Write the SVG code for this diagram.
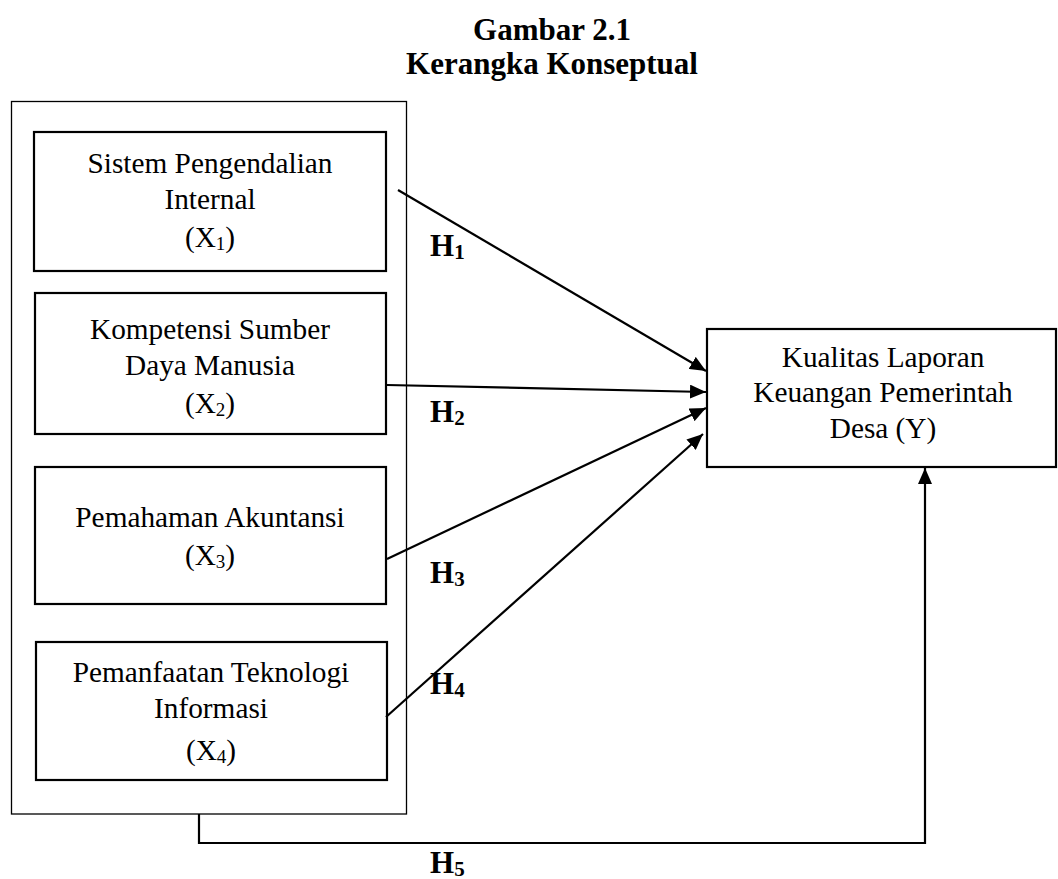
<svg xmlns="http://www.w3.org/2000/svg" width="1058" height="879" viewBox="0 0 1058 879">
<style>
  text { font-family: "Liberation Serif", "Times New Roman", serif; fill: #000; }
  .t { font-size: 29.3px; text-anchor: middle; }
  .b { font-size: 31px; font-weight: bold; }
  .title { font-size: 31px; font-weight: bold; text-anchor: middle; }
  .box { fill: #fff; stroke: #000; stroke-width: 2.2; }
  .outer { fill: none; stroke: #000; stroke-width: 1.3; }
  .conn { fill: none; stroke: #000; stroke-width: 2.2; }
</style>
<defs>
  <marker id="arr" viewBox="0 0 16 14" refX="16" refY="7" markerWidth="16" markerHeight="14" markerUnits="userSpaceOnUse" orient="auto">
    <path d="M0,0 L16,7 L0,14 z" fill="#000"/>
  </marker>
</defs>
<rect width="1058" height="879" fill="#fff"/>

<g id="title">
  <text class="title" x="552" y="40">Gambar 2.1</text>
  <text class="title" x="552" y="74">Kerangka Konseptual</text>
</g>

<g id="group-x">
  <rect class="outer" x="11.5" y="101.5" width="395" height="712.5"/>
</g>

<g id="x1">
  <rect class="box" x="34" y="132" width="352" height="139"/>
  <text class="t" x="210" y="173">Sistem Pengendalian</text>
  <text class="t" x="210" y="209">Internal</text>
  <text class="t" x="210" y="247">(X<tspan font-size="19" dy="3">1</tspan><tspan dy="-3">)</tspan></text>
</g>

<g id="x2">
  <rect class="box" x="35" y="293" width="351" height="141"/>
  <text class="t" x="210" y="339">Kompetensi Sumber</text>
  <text class="t" x="210" y="375">Daya Manusia</text>
  <text class="t" x="210" y="413">(X<tspan font-size="19" dy="3">2</tspan><tspan dy="-3">)</tspan></text>
</g>

<g id="x3">
  <rect class="box" x="35" y="467" width="351" height="137"/>
  <text class="t" x="210" y="527">Pemahaman Akuntansi</text>
  <text class="t" x="210" y="565">(X<tspan font-size="19" dy="3">3</tspan><tspan dy="-3">)</tspan></text>
</g>

<g id="x4">
  <rect class="box" x="36" y="642" width="351" height="138"/>
  <text class="t" x="211" y="682">Pemanfaatan Teknologi</text>
  <text class="t" x="211" y="718">Informasi</text>
  <text class="t" x="211" y="760">(X<tspan font-size="19" dy="3">4</tspan><tspan dy="-3">)</tspan></text>
</g>

<g id="y">
  <rect class="box" x="707" y="329" width="349" height="138"/>
  <text class="t" x="883" y="367">Kualitas Laporan</text>
  <text class="t" x="883" y="402">Keuangan Pemerintah</text>
  <text class="t" x="883" y="438">Desa (Y)</text>
</g>

<g id="connectors">
  <line class="conn" x1="398" y1="190" x2="706" y2="371" marker-end="url(#arr)"/>
  <line class="conn" x1="387" y1="385" x2="706" y2="392" marker-end="url(#arr)"/>
  <line class="conn" x1="387" y1="559" x2="706" y2="408" marker-end="url(#arr)"/>
  <line class="conn" x1="386" y1="717" x2="703" y2="434" marker-end="url(#arr)"/>
  <polyline class="conn" points="199,814 199,843 925,843 925,468" marker-end="url(#arr)"/>
</g>

<g id="labels">
  <text class="b" x="430" y="256">H<tspan font-size="21" dy="3">1</tspan></text>
  <text class="b" x="430" y="422">H<tspan font-size="21" dy="3">2</tspan></text>
  <text class="b" x="430" y="583">H<tspan font-size="21" dy="3">3</tspan></text>
  <text class="b" x="430" y="694">H<tspan font-size="21" dy="3">4</tspan></text>
  <text class="b" x="430" y="873">H<tspan font-size="21" dy="3">5</tspan></text>
</g>
</svg>
